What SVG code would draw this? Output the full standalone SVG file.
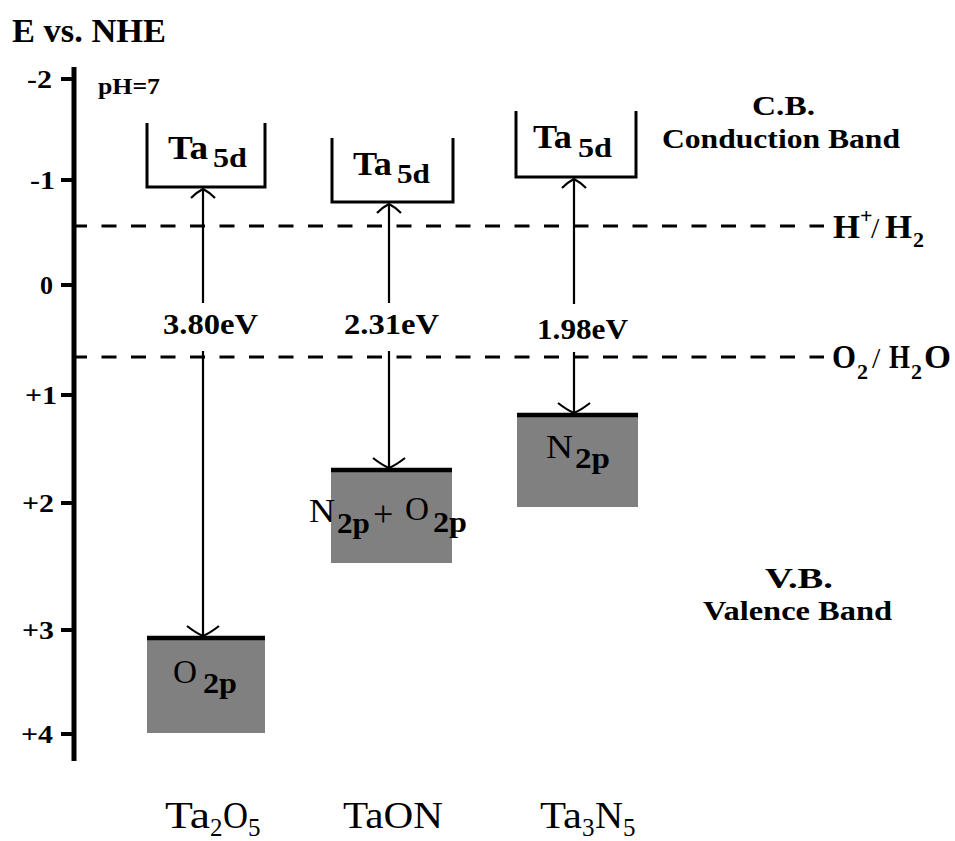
<svg xmlns="http://www.w3.org/2000/svg" width="955" height="841" viewBox="0 0 955 841">
<style>
  text { font-family: "Liberation Serif", "Times New Roman", serif; fill: #000; }
  .b { font-weight: bold; }
  .tick { font-weight: bold; font-size: 26px; }
  .cb { fill: none; stroke: #000; stroke-width: 3; }
  .vb { fill: #808080; }
  .vbtop { stroke: #000; stroke-width: 4.5; }
  .arrow { fill: none; stroke: #000; stroke-width: 2.2; }
  .dash { stroke: #000; stroke-width: 3; stroke-dasharray: 15 14.5; }
  .ta { font-weight: bold; font-size: 34px; }
  .sd { font-weight: bold; font-size: 28px; }
  .ev { font-weight: bold; font-size: 30px; }
  .el { font-size: 33px; }
  .sp { font-weight: bold; font-size: 30px; }
  .mat { font-size: 37px; }
  .matsub { font-size: 25px; }
  .redox { font-weight: bold; font-size: 34px; }
  .redoxsub { font-weight: bold; font-size: 22px; }
</style>
<defs>
  <marker id="headS" markerUnits="userSpaceOnUse" orient="auto" markerWidth="30" markerHeight="30" refX="0" refY="0" viewBox="-15 -15 30 30" overflow="visible">
    <path d="M -9 -12 Q -3 -6 0 0 Q -3 6 -9 12" fill="none" stroke="#000" stroke-width="2.2"/>
  </marker>
  <marker id="headL" markerUnits="userSpaceOnUse" orient="auto" markerWidth="36" markerHeight="36" refX="0" refY="0" viewBox="-18 -18 36 36" overflow="visible">
    <path d="M -10 -16 Q -3 -7 0 0 Q -3 7 -10 16" fill="none" stroke="#000" stroke-width="2.2"/>
  </marker>
</defs>
<rect width="955" height="841" fill="#fff"/>

<g id="axis">
  <text class="b" x="12" y="42" font-size="33" textLength="154" lengthAdjust="spacingAndGlyphs">E vs. NHE</text>
  <line x1="74" y1="67" x2="74" y2="761" stroke="#000" stroke-width="5"/>
  <g stroke="#000" stroke-width="4">
    <line x1="61" y1="79" x2="74" y2="79"/>
    <line x1="61" y1="180" x2="74" y2="180"/>
    <line x1="61" y1="285" x2="74" y2="285"/>
    <line x1="61" y1="395" x2="74" y2="395"/>
    <line x1="61" y1="503" x2="74" y2="503"/>
    <line x1="61" y1="630" x2="74" y2="630"/>
    <line x1="61" y1="734" x2="74" y2="734"/>
  </g>
  <text class="tick" x="27" y="88" textLength="25" lengthAdjust="spacingAndGlyphs">-2</text>
  <text class="tick" x="30" y="189" textLength="25" lengthAdjust="spacingAndGlyphs">-1</text>
  <text class="tick" x="40" y="294" textLength="13" lengthAdjust="spacingAndGlyphs">0</text>
  <text class="tick" x="25" y="404" textLength="32" lengthAdjust="spacingAndGlyphs">+1</text>
  <text class="tick" x="22" y="512" textLength="32" lengthAdjust="spacingAndGlyphs">+2</text>
  <text class="tick" x="22" y="639" textLength="32" lengthAdjust="spacingAndGlyphs">+3</text>
  <text class="tick" x="21" y="743" textLength="32" lengthAdjust="spacingAndGlyphs">+4</text>
  <text class="b" x="98" y="94" font-size="23" textLength="62" lengthAdjust="spacingAndGlyphs">pH=7</text>
</g>

<g id="levels">
  <line class="dash" x1="72" y1="226" x2="824" y2="226"/>
  <line class="dash" x1="72" y1="357" x2="824" y2="357"/>
  <text id="h-h2" class="redox" x="833" y="238"><tspan textLength="27" lengthAdjust="spacingAndGlyphs">H</tspan><tspan class="redoxsub" x="860" y="223">+</tspan><tspan font-weight="normal" font-size="30" x="871" y="238">/</tspan><tspan x="885" textLength="27" lengthAdjust="spacingAndGlyphs">H</tspan><tspan class="redoxsub" x="913" y="247">2</tspan></text>
  <text id="o2-h2o" class="redox" x="832" y="368"><tspan textLength="24" lengthAdjust="spacingAndGlyphs">O</tspan><tspan class="redoxsub" x="857" y="379">2</tspan><tspan font-weight="normal" font-size="30" x="872" y="368">/</tspan><tspan x="889" textLength="21" lengthAdjust="spacingAndGlyphs">H</tspan><tspan class="redoxsub" x="911" y="379">2</tspan><tspan x="924" y="368" textLength="27" lengthAdjust="spacingAndGlyphs">O</tspan></text>
</g>

<g id="cb-ta2o5">
  <path class="cb" d="M147 123 V187 H265 V123"/>
  <text class="ta" x="168" y="159" textLength="40" lengthAdjust="spacingAndGlyphs">Ta</text>
  <text class="sd" x="213" y="167" textLength="34" lengthAdjust="spacingAndGlyphs">5d</text>
</g>
<g id="cb-taon">
  <path class="cb" d="M332 138 V202 H453 V138"/>
  <text class="ta" x="353" y="175" textLength="39" lengthAdjust="spacingAndGlyphs">Ta</text>
  <text class="sd" x="397" y="183" textLength="33" lengthAdjust="spacingAndGlyphs">5d</text>
</g>
<g id="cb-ta3n5">
  <path class="cb" d="M516 111 V177 H636 V111"/>
  <text class="ta" x="533" y="148" textLength="39" lengthAdjust="spacingAndGlyphs">Ta</text>
  <text class="sd" x="578" y="157" textLength="34" lengthAdjust="spacingAndGlyphs">5d</text>
</g>

<g id="vb-ta2o5">
  <rect class="vb" x="147" y="637" width="118" height="96"/>
  <line class="vbtop" x1="147" y1="638" x2="265" y2="638"/>
  <text class="el" x="173" y="683" textLength="24" lengthAdjust="spacingAndGlyphs">O</text>
  <text class="sp" x="203" y="693" textLength="34" lengthAdjust="spacingAndGlyphs">2p</text>
</g>
<g id="vb-taon">
  <rect class="vb" x="331" y="469" width="121" height="94"/>
  <line class="vbtop" x1="331" y1="470" x2="452" y2="470"/>
  <text class="el" x="309" y="522" textLength="26" lengthAdjust="spacingAndGlyphs">N</text>
  <text class="sp" x="337" y="533" textLength="33" lengthAdjust="spacingAndGlyphs">2p</text>
  <text x="373" y="526" font-size="36">+</text>
  <text class="el" x="405" y="520" textLength="24" lengthAdjust="spacingAndGlyphs">O</text>
  <text class="sp" x="433" y="532" textLength="34" lengthAdjust="spacingAndGlyphs">2p</text>
</g>
<g id="vb-ta3n5">
  <rect class="vb" x="517" y="414" width="121" height="93"/>
  <line class="vbtop" x1="517" y1="415" x2="638" y2="415"/>
  <text class="el" x="546" y="458" textLength="27" lengthAdjust="spacingAndGlyphs">N</text>
  <text class="sp" x="575" y="468" textLength="35" lengthAdjust="spacingAndGlyphs">2p</text>
</g>

<g id="connectors">
  <path class="arrow" d="M203 303 V189" marker-end="url(#headS)"/>
  <path class="arrow" d="M203 351 V636" marker-end="url(#headL)"/>
  <path class="arrow" d="M389 303 V204" marker-end="url(#headS)"/>
  <path class="arrow" d="M389 351 V468" marker-end="url(#headL)"/>
  <path class="arrow" d="M574 304 V179" marker-end="url(#headS)"/>
  <path class="arrow" d="M574 352 V413" marker-end="url(#headL)"/>
</g>

<g id="gaps">
  <text class="ev" x="163" y="334" textLength="95" lengthAdjust="spacingAndGlyphs">3.80eV</text>
  <text class="ev" x="344" y="334" textLength="95" lengthAdjust="spacingAndGlyphs">2.31eV</text>
  <text class="ev" x="537" y="339" textLength="91" lengthAdjust="spacingAndGlyphs">1.98eV</text>
</g>

<g id="band-labels">
  <text class="b" x="752" y="115" font-size="27" textLength="63" lengthAdjust="spacingAndGlyphs">C.B.</text>
  <text class="b" x="662" y="148" font-size="27" textLength="238" lengthAdjust="spacingAndGlyphs">Conduction Band</text>
  <text class="b" x="765" y="588" font-size="30" textLength="68" lengthAdjust="spacingAndGlyphs">V.B.</text>
  <text class="b" x="703" y="620" font-size="27" textLength="189" lengthAdjust="spacingAndGlyphs">Valence Band</text>
</g>

<g id="materials">
  <g id="mat-ta2o5">
    <text class="mat" x="165" y="828" textLength="45" lengthAdjust="spacingAndGlyphs">Ta</text>
    <text class="matsub" x="210" y="836">2</text>
    <text class="mat" x="223" y="828" textLength="25" lengthAdjust="spacingAndGlyphs">O</text>
    <text class="matsub" x="248" y="836">5</text>
  </g>
  <g id="mat-taon">
    <text class="mat" x="343" y="828" textLength="100" lengthAdjust="spacingAndGlyphs">TaON</text>
  </g>
  <g id="mat-ta3n5">
    <text class="mat" x="540" y="828" textLength="42" lengthAdjust="spacingAndGlyphs">Ta</text>
    <text class="matsub" x="582" y="836">3</text>
    <text class="mat" x="595" y="828" textLength="28" lengthAdjust="spacingAndGlyphs">N</text>
    <text class="matsub" x="623" y="836">5</text>
  </g>
</g>
</svg>
